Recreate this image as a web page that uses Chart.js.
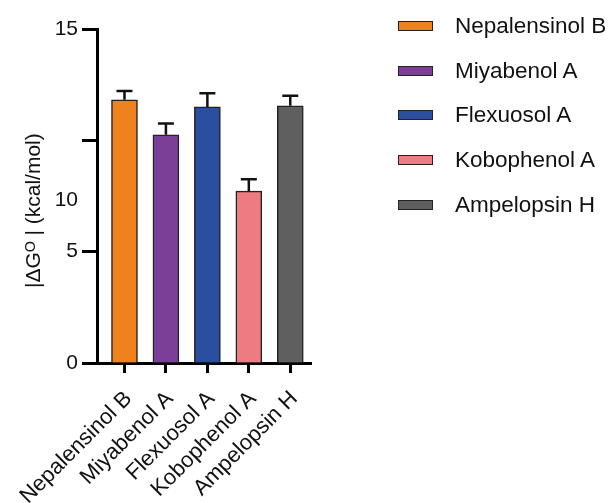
<!DOCTYPE html>
<html>
<head>
<meta charset="utf-8">
<script src="https://cdn.jsdelivr.net/npm/chart.js@4.4.1/dist/chart.umd.min.js"></script>
<style>
  html, body { margin: 0; padding: 0; background: #fff; }
  #wrap { position: relative; width: 609px; height: 503px; }
  #legend { position: absolute; left: 398px; top: 4px; font-family: "Liberation Sans", Arial, sans-serif; font-size: 22.5px; color: #111; }
  #legend .row { height: 44.6px; display: flex; align-items: center; }
  #legend .box { width: 33px; height: 8px; border: 1.5px solid #222; margin-right: 22px; }
</style>
</head>
<body>
<div id="wrap">
  <canvas id="chart" width="609" height="503"></canvas>
  <div id="legend"></div>
</div>
<script>
// values
const categories = ['Nepalensinol B', 'Miyabenol A', 'Flexuosol A', 'Kobophenol A', 'Ampelopsin H'];
const values = [11.82, 10.25, 11.50, 7.72, 11.55];
const errors = [0.39, 0.51, 0.61, 0.53, 0.45];
const colors = ['#F0821E', '#7B3F98', '#2A4F9E', '#EF7B82', '#5F5F5F'];

// y ticks; the "10" label sits lower than its tick in the original figure
const yTicks = [0, 5, 7.3, 10, 15];
const yTickLabels = ['0', '5', '10', '', '15'];
const yTickMarks = [true, true, false, true, true];

const fontFamily = '"Liberation Sans", Arial, "DejaVu Sans", sans-serif';

// legend (html)
const legend = document.getElementById('legend');
categories.forEach(function(name, i) {
	const row = document.createElement('div');
	row.className = 'row';
	row.innerHTML = '<div class="box" style="background:' + colors[i] + '"></div><span>' + name + '</span>';
	legend.appendChild(row);
});

const errorBars = {
	id: 'errorBars',
	afterDatasetsDraw: function(chart) {
		const xs = chart.scales.x, ys = chart.scales.y;
		const ctx = chart.ctx;
		ctx.save();
		ctx.strokeStyle = '#111';
		ctx.lineWidth = 2.5;
		values.forEach(function(v, i) {
			const x = xs.getPixelForValue(i);
			const yBar = ys.getPixelForValue(v);
			const yTop = ys.getPixelForValue(v + errors[i]);
			ctx.beginPath();
			ctx.moveTo(x, yBar);
			ctx.lineTo(x, yTop);
			ctx.moveTo(x - 8, yTop);
			ctx.lineTo(x + 8, yTop);
			ctx.stroke();
		});
		ctx.restore();
	}
};

const ctx = document.getElementById('chart').getContext('2d');
const myChart = new Chart(ctx, {
	type: 'bar',
	data: {
		datasets: [{
			data: values.map(function(v, i) { return {x: i, y: v}; }),
			backgroundColor: colors,
			borderColor: '#222',
			borderWidth: 1.5,
			barThickness: 26
		}]
	},
	options: {
		responsive: false,
		animation: false,
		layout: { padding: { top: 29, right: 298, left: 0, bottom: 0 } },
		plugins: { legend: { display: false }, tooltip: { enabled: false } },
		scales: {
			x: {
				type: 'linear',
				offset: false,
				min: -0.663,
				max: 4.5,
				afterBuildTicks: function(scale) {
					scale.ticks = categories.map(function(c, i) { return {value: i}; });
				},
				afterFit: function(scale) {
					scale.height = 140;
					// rotated labels may hang past the plot edge, don't let them shrink it
					scale.paddingLeft = 0;
					scale.paddingRight = 0;
				},
				border: { display: true, width: 3, color: '#000' },
				grid: { offset: false, drawOnChartArea: false, drawTicks: true, tickLength: 10, tickWidth: 3, tickColor: '#000' },
				ticks: {
					autoSkip: false,
					minRotation: 45,
					maxRotation: 45,
					padding: 13,
					labelOffset: 4,
					color: '#111',
					font: { family: fontFamily, size: 22 },
					callback: function(value) { return categories[value]; }
				}
			},
			y: {
				min: 0,
				max: 15,
				afterBuildTicks: function(scale) {
					scale.ticks = yTicks.map(function(v) { return {value: v}; });
				},
				afterFit: function(scale) { scale.width = 97; },
				border: { display: true, width: 3, color: '#000' },
				grid: {
					drawOnChartArea: false, drawTicks: true, tickLength: 15, tickWidth: 3,
					tickColor: function(c) { return yTickMarks[yTicks.indexOf(c.tick.value)] ? '#000' : 'rgba(0,0,0,0)'; }
				},
				ticks: {
					padding: 4,
					color: '#111',
					font: { family: fontFamily, size: 21 },
					callback: function(value) { return yTickLabels[yTicks.indexOf(value)]; }
				},
				title: {
					display: true,
					text: '|\u0394G\u1D3C | (kcal/mol)     ',
					color: '#111',
					font: { family: fontFamily, size: 21 },
					padding: { top: 22, bottom: 0 }
				}
			}
		}
	},
	plugins: [errorBars]
});
</script>
</body>
</html>
